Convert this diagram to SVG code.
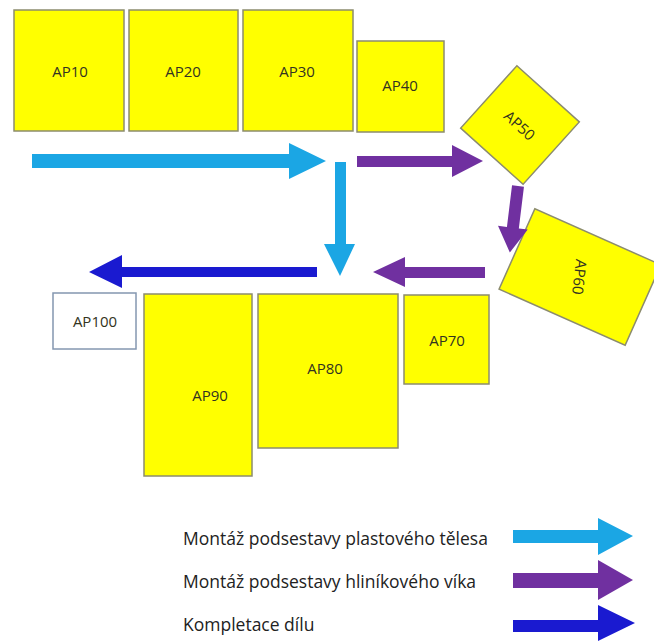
<svg xmlns="http://www.w3.org/2000/svg" width="654" height="641" viewBox="0 0 654 641">
  <style>
    .st { fill: #ffff00; stroke: #8c8c6e; stroke-width: 1.5; }
    .st-out { fill: #ffffff; stroke: #8497b0; stroke-width: 1.5; }
    .lbl { font-family: "Open Sans", "Liberation Sans", sans-serif; font-size: 15px; fill: #333320; text-anchor: middle; dominant-baseline: central; }
    .leg { font-family: "Open Sans", "Liberation Sans", sans-serif; font-size: 17.5px; fill: #222; }
    .plast { fill: #1ba6e4; }
    .vika { fill: #7030a0; }
    .kompl { fill: #1a1ad0; }
  </style>
  <rect width="654" height="641" fill="#ffffff"/>

  <!-- work stations -->
  <g id="ap10"><rect class="st" x="14" y="10" width="110" height="121"/><text class="lbl" x="70" y="71">AP10</text></g>
  <g id="ap20"><rect class="st" x="129" y="10" width="109" height="121"/><text class="lbl" x="183" y="71">AP20</text></g>
  <g id="ap30"><rect class="st" x="243" y="10" width="110" height="121"/><text class="lbl" x="297" y="71">AP30</text></g>
  <g id="ap40"><rect class="st" x="357" y="41" width="87" height="91"/><text class="lbl" x="400" y="85">AP40</text></g>
  <g id="ap50" transform="translate(520,125) rotate(42)">
    <rect class="st" x="-42" y="-42" width="84" height="84"/>
    <text class="lbl" x="0" y="0">AP50</text>
  </g>
  <g id="ap60" transform="translate(580,277) rotate(24)">
    <rect class="st" x="-69" y="-44" width="138" height="88"/>
    <text class="lbl" x="0" y="0" transform="rotate(72)">AP60</text>
  </g>
  <g id="ap70"><rect class="st" x="404" y="295" width="85" height="89"/><text class="lbl" x="447" y="340">AP70</text></g>
  <g id="ap80"><rect class="st" x="258" y="294" width="140" height="154"/><text class="lbl" x="325" y="368">AP80</text></g>
  <g id="ap90"><rect class="st" x="144" y="294" width="108" height="182"/><text class="lbl" x="210" y="395">AP90</text></g>
  <g id="ap100"><rect class="st-out" x="53" y="293" width="83" height="56"/><text class="lbl" x="95" y="321">AP100</text></g>

  <!-- flow arrows -->
  <g id="connectors">
    <polygon class="plast" points="32,154 289,154 289,143 326,161 289,179 289,168 32,168"/>
    <polygon class="plast" points="335,162 346,162 346,244 355,244 340,276 324,244 335,244"/>
    <polygon class="vika" points="357,156 452,156 452,145 483,161 452,177 452,167 357,167"/>
    <polygon class="vika" transform="translate(518,186) rotate(7)" points="-6,0 6,0 6,42 15,42 0,67 -15,42 -6,42"/>
    <polygon class="vika" points="485,267 405,267 405,257 373,272 405,287 405,278 485,278"/>
    <polygon class="kompl" points="317,267 122,267 122,255 89,272 122,288 122,277 317,277"/>
  </g>

  <!-- legend -->
  <g id="legend">
    <text class="leg" x="183" y="545">Montáž podsestavy plastového tělesa</text>
    <polygon class="plast" points="513,530 598,530 598,518 633,536 598,555 598,543 513,543"/>
    <text class="leg" x="183" y="588">Montáž podsestavy hliníkového víka</text>
    <polygon class="vika" points="513,573 598,573 598,560 633,580 598,600 598,588 513,588"/>
    <text class="leg" x="183" y="631">Kompletace dílu</text>
    <polygon class="kompl" points="513,620 598,620 598,605 635,623 598,641 598,632 513,632"/>
  </g>
</svg>
